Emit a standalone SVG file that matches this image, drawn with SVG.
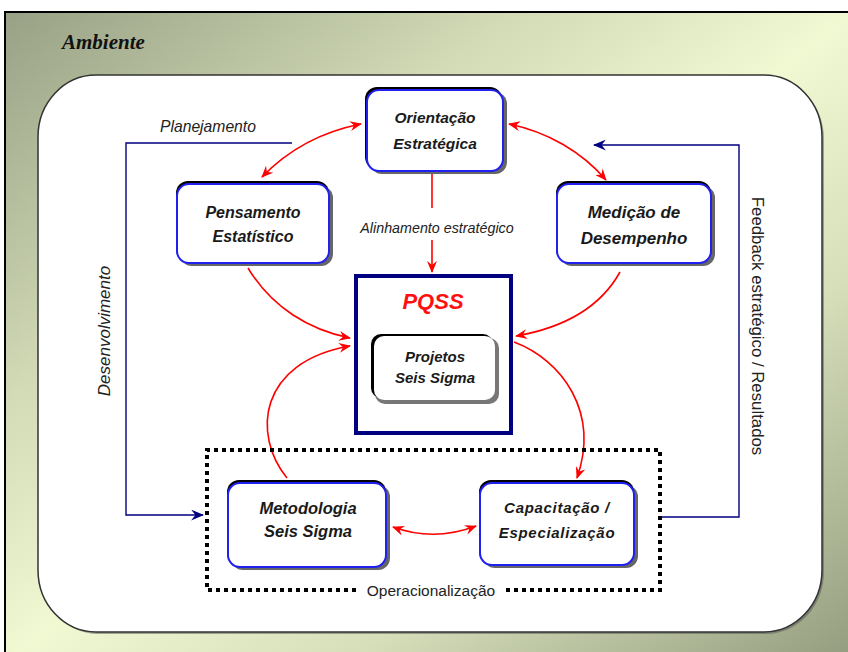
<svg xmlns="http://www.w3.org/2000/svg" width="848" height="652" viewBox="0 0 848 652">
<defs>
<linearGradient id="bg" x1="0" y1="0" x2="1" y2="1">
<stop offset="0" stop-color="#98a185"/>
<stop offset="0.3" stop-color="#d2dab6"/>
<stop offset="0.5" stop-color="#f0f9d2"/>
<stop offset="0.7" stop-color="#d6deba"/>
<stop offset="1" stop-color="#939c7e"/>
</linearGradient>
<marker id="ra" viewBox="0 0 12 10" refX="11" refY="5" markerWidth="12" markerHeight="10" markerUnits="userSpaceOnUse" orient="auto-start-reverse">
<path d="M0,0 L12,5 L0,10 L4,5 Z" fill="#ff0000"/>
</marker>
<marker id="na" viewBox="0 0 12 10" refX="11" refY="5" markerWidth="13" markerHeight="11" markerUnits="userSpaceOnUse" orient="auto">
<path d="M0,0 L12,5 L0,10 L4,5 Z" fill="#000080"/>
</marker>
</defs>
<style>
.node text{font-family:"Liberation Sans",Arial,sans-serif;font-weight:bold;font-style:italic;font-size:16px;fill:#1a1a1a;text-anchor:middle}
.shadow{fill:#666}
.top{fill:#000}
.box{fill:#fff;stroke:#2020f0;stroke-width:2}
.red{fill:none;stroke:#ff0000;stroke-width:1.6}
.navy{fill:none;stroke:#000080;stroke-width:1.4}
.lbl{font-family:"Liberation Sans",Arial,sans-serif;fill:#222}
</style>
<rect x="5" y="12" width="850" height="650" fill="url(#bg)" stroke="#000" stroke-width="2"/>
<text x="62" y="49" font-family="Liberation Serif,serif" font-style="italic" font-weight="bold" font-size="21" fill="#111">Ambiente</text>
<rect x="40" y="77" width="784" height="557" rx="58" ry="62" fill="#555" opacity="0.5"/>
<rect x="38" y="75" width="784" height="557" rx="58" ry="62" fill="#fff" stroke="#333" stroke-width="1.5"/>

<g id="connectors">
<path class="navy" d="M292,143 L126,143 L126,515 L203,515" marker-end="url(#na)"/>
<path class="navy" d="M660,517 L739,517 L739,145 L594,145" marker-end="url(#na)"/>
<path class="red" d="M361,124 C320,132 288,150 262,177" marker-start="url(#ra)" marker-end="url(#ra)"/>
<path class="red" d="M509,124 C548,132 582,152 606,180" marker-start="url(#ra)" marker-end="url(#ra)"/>
<path class="red" d="M432,173 L432,208"/>
<path class="red" d="M432,240 L432,272" marker-end="url(#ra)"/>
<path class="red" d="M248,268 C272,308 310,330 350,338" marker-end="url(#ra)"/>
<path class="red" d="M620,272 C600,308 562,328 516,336" marker-end="url(#ra)"/>
<path class="red" d="M514,342 C562,360 600,412 577,478" marker-end="url(#ra)"/>
<path class="red" d="M287,478 C252,435 258,362 350,346" marker-end="url(#ra)"/>
<path class="red" d="M393,527 Q434,542 476,526" marker-start="url(#ra)" marker-end="url(#ra)"/>
<path d="M356,590 L207,590 L207,450 L660,450 L660,590 L506,590" fill="none" stroke="#000" stroke-width="4" stroke-dasharray="4 4"/>
</g>

<text class="lbl" x="160" y="132" font-size="15.7" font-style="italic">Planejamento</text>
<text class="lbl" x="437" y="233" font-size="14.3" font-style="italic" text-anchor="middle">Alinhamento estratégico</text>
<text class="lbl" x="110" y="331" font-size="17" font-style="italic" text-anchor="middle" transform="rotate(-90 110 331)">Desenvolvimento</text>
<text class="lbl" x="752" y="326" font-size="16.8" text-anchor="middle" transform="rotate(90 752 326)">Feedback estratégico / Resultados</text>
<text class="lbl" x="431" y="596" font-size="15.5" text-anchor="middle">Operacionalização</text>

<g id="orientacao" class="node">
<rect class="shadow" x="370" y="92" width="137" height="82" rx="12"/>
<rect class="top" x="365" y="87" width="137" height="82" rx="12"/>
<rect class="box" x="367" y="90" width="136" height="81" rx="12"/>
<text x="435" y="123" style="font-size:15.5px">Orientação</text>
<text x="435" y="149" style="font-size:15.5px">Estratégica</text>
</g>
<g id="pensamento" class="node">
<rect class="shadow" x="180" y="186" width="153" height="80" rx="12"/>
<rect class="top" x="176" y="181" width="153" height="80" rx="12"/>
<rect class="box" x="177" y="184" width="152" height="79" rx="12"/>
<text x="253" y="218">Pensamento</text>
<text x="253" y="242">Estatístico</text>
</g>
<g id="medicao" class="node">
<rect class="shadow" x="560" y="186" width="155" height="80" rx="12"/>
<rect class="top" x="556" y="181" width="155" height="80" rx="12"/>
<rect class="box" x="557" y="184" width="154" height="79" rx="12"/>
<text x="634" y="218" style="font-size:17px">Medição de</text>
<text x="634" y="244" style="font-size:17px">Desempenho</text>
</g>
<g id="pqss" class="node">
<rect x="356" y="276" width="155" height="157" fill="#fff" stroke="#000080" stroke-width="4"/>
<text x="433" y="309" style="font-size:22px;fill:#ff1010">PQSS</text>
<rect x="375" y="338" width="124" height="66" rx="10" fill="#777"/>
<rect x="371" y="334" width="122" height="64" rx="10" fill="#000"/>
<rect x="374" y="336" width="121" height="64" rx="10" fill="#fff"/>
<text x="435" y="362" style="font-size:15px">Projetos</text>
<text x="435" y="383" style="font-size:15px">Seis Sigma</text>
</g>
<g id="metodologia" class="node">
<rect class="shadow" x="231" y="485" width="159" height="85" rx="12"/>
<rect class="top" x="227" y="480" width="159" height="85" rx="12"/>
<rect class="box" x="228" y="483" width="158" height="84" rx="12"/>
<text x="308" y="514" style="font-size:16.5px">Metodologia</text>
<text x="308" y="537" style="font-size:16.5px">Seis Sigma</text>
</g>
<g id="capacitacao" class="node">
<rect class="shadow" x="483" y="485" width="155" height="83" rx="12"/>
<rect class="top" x="479" y="480" width="155" height="83" rx="12"/>
<rect class="box" x="480" y="483" width="154" height="82" rx="12"/>
<text x="557" y="513" style="font-size:15px;letter-spacing:0.7px">Capacitação /</text>
<text x="557" y="538" style="font-size:15px;letter-spacing:0.7px">Especialização</text>
</g>
</svg>
